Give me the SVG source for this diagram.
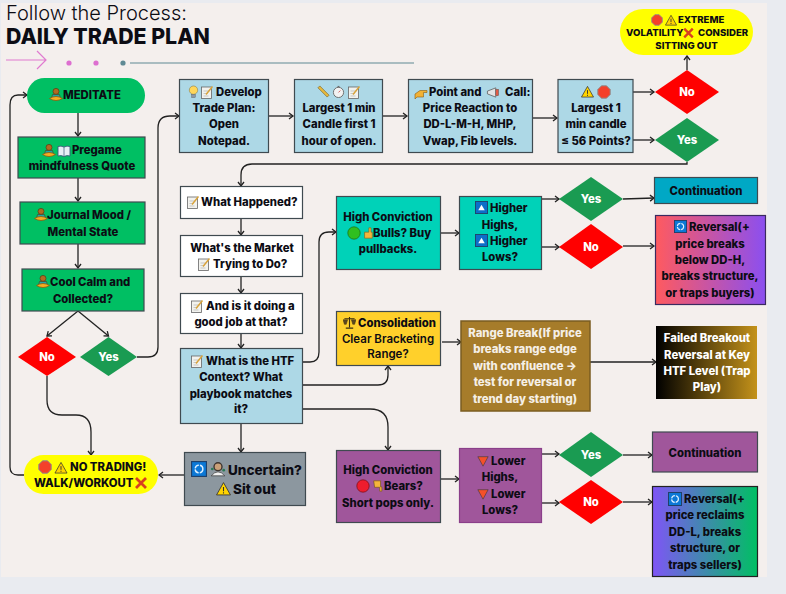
<svg xmlns="http://www.w3.org/2000/svg" width="786" height="594" viewBox="0 0 786 594">
<style>
text{font-family:"Inter","Liberation Sans",sans-serif;font-weight:800;font-size:11.300px;fill:#0c0c14;text-anchor:middle}
.s{text-anchor:start}
.w{fill:#fff}
.m{font-weight:600;font-size:11.500px}
.c{fill:#f5efe6}
.x{font-size:9.600px}
.u{font-size:13.500px}
.box{stroke:#3f4a50;stroke-width:1.200}
.line{fill:none;stroke:#222;stroke-width:1.300;marker-end:url(#a)}
</style>
<defs>
<marker id="a" markerUnits="userSpaceOnUse" markerWidth="8" markerHeight="8" refX="6.500" refY="4" orient="auto"><path d="M2.500 1L6.500 4L2.500 7" fill="none" stroke="#222" stroke-width="1.300"/></marker>
<linearGradient id="gRev1" x1="0" x2="1" y1="0" y2="0"><stop offset="0" stop-color="#ff5a5f"/><stop offset="1" stop-color="#8b4ff0"/></linearGradient>
<linearGradient id="gRev2" x1="0" x2="1" y1="0" y2="0"><stop offset="0" stop-color="#7f55f6"/><stop offset="1" stop-color="#00bf63"/></linearGradient>
<linearGradient id="gFail" x1="0" x2="1" y1="0" y2="0"><stop offset="0" stop-color="#000"/><stop offset="1" stop-color="#c4921a"/></linearGradient>
<symbol id="i-person" viewBox="0 0 14 14"><circle cx="7" cy="3.400" r="3" fill="#b06a22" stroke="#5e3610" stroke-width=".7"/><path d="M3.500 6.500h7l1 4h-9z" fill="#1fa3a8" stroke="#5e3610" stroke-width=".6"/><path d="M.5 10.500Q7 6.500 13.500 10.500Q7 14.500 .5 10.500Z" fill="#f5ae22" stroke="#8a5a10" stroke-width=".8"/></symbol>
<symbol id="i-book" viewBox="0 0 14 14"><path d="M1 2.500Q4 1.500 7 3Q10 1.500 13 2.500V12Q10 11 7 12.500Q4 11 1 12Z" fill="#e6eff5" stroke="#3a5a78" stroke-width=".9"/><path d="M7 3V12.500" stroke="#3a5a78" stroke-width=".7"/></symbol>
<symbol id="i-bulb" viewBox="0 0 14 14"><circle cx="7" cy="5" r="4.500" fill="#ffd75a" stroke="#8a7a40" stroke-width=".6"/><rect x="5" y="9.500" width="4" height="3.500" fill="#8d99a3" stroke="#555" stroke-width=".4"/></symbol>
<symbol id="i-memo" viewBox="0 0 14 14"><rect x="1.500" y="2" width="10" height="11.500" fill="#f2f2ee" stroke="#666" stroke-width=".8"/><path d="M3.500 6h6M3.500 8.500h4M3.500 11h5" stroke="#aaa" stroke-width=".6"/><path d="M6 9.500L12.500 1.500" stroke="#d9a33a" stroke-width="1.500"/></symbol>
<symbol id="i-ruler" viewBox="0 0 14 14"><path d="M1 3L3 1L13 11L11 13Z" fill="#e8b93c" stroke="#6b5314" stroke-width=".6"/></symbol>
<symbol id="i-watch" viewBox="0 0 14 14"><circle cx="7" cy="8" r="5.500" fill="#f2f2f2" stroke="#6a6a6a"/><rect x="6" y="1" width="2" height="1.600" fill="#6a6a6a"/><path d="M7 8L9 6" stroke="#c33" stroke-width=".8"/></symbol>
<symbol id="i-point" viewBox="0 0 14 14"><path d="M1 8L6 4.500H13V6.500H9.500V11H3L1 13Z" fill="#f2b134" stroke="#8a5a10" stroke-width=".6"/></symbol>
<symbol id="i-mega" viewBox="0 0 14 14"><path d="M1 5.500L10 2V12L1 8.500Z" fill="#e4e4e4" stroke="#555" stroke-width=".8"/><rect x="10" y="3.500" width="3" height="7" fill="#e25b45" stroke="#555" stroke-width=".5"/></symbol>
<symbol id="i-warn" viewBox="0 0 14 14"><path d="M7 1.500L13.500 13H.5Z" fill="#ffd400" stroke="#333" stroke-width=".8"/><path d="M7 5.500V9.500M7 10.500V11.700" stroke="#333"/></symbol>
<symbol id="i-stop" viewBox="0 0 14 14"><path d="M4.500 .8H9.500L13.200 4.500V9.500L9.500 13.200H4.500L.8 9.500V4.500Z" fill="#f4402a" stroke="#8d8d8d"/></symbol>
<symbol id="i-cross" viewBox="0 0 14 14"><path d="M2 2L12 12M12 2L2 12" stroke="#d8401f" stroke-width="2.800"/></symbol>
<symbol id="i-ref" viewBox="0 0 14 14"><rect x=".5" y=".5" width="13" height="13" fill="#0c78d6" stroke="#20406a"/><circle cx="7" cy="7" r="3.400" fill="none" stroke="#dff0ff" stroke-width="1.200" stroke-dasharray="4.500 1"/></symbol>
<symbol id="i-up" viewBox="0 0 14 14"><rect x=".5" y=".5" width="13" height="13" fill="#0c6ec9" stroke="#20406a"/><path d="M7 4L10.500 10H3.500Z" fill="#fff"/></symbol>
<symbol id="i-down" viewBox="0 0 14 14"><path d="M1 2H13L7 13Z" fill="#f4502a" stroke="#3a3a3a" stroke-width=".7"/></symbol>
<symbol id="i-green" viewBox="0 0 14 14"><circle cx="7" cy="7" r="6.200" fill="#2fbf1f" stroke="#1d6a14" stroke-width=".7"/></symbol>
<symbol id="i-red" viewBox="0 0 14 14"><circle cx="7" cy="7" r="6.200" fill="#ee1c2e" stroke="#701018" stroke-width=".7"/></symbol>
<symbol id="i-tup" viewBox="0 0 14 14"><path d="M3 6L8 6V1H10.500V6H12V13H3Z" fill="#f5b53c" stroke="#8a5a10" stroke-width=".7"/></symbol>
<symbol id="i-tdown" viewBox="0 0 14 14"><path d="M2 1H10V8H11.500V13H9V8.500H3Z" fill="#f5b53c" stroke="#6b5010" stroke-width=".7"/></symbol>
<symbol id="i-scale" viewBox="0 0 14 14"><path d="M7 1V12M3 13H11M1.500 3H12.500" stroke="#3a2c10" stroke-width="1.200" fill="none"/><path d="M0 4H5L3.500 9H1.500ZM9 4H14L12.500 9H10.500Z" fill="#5c4820" stroke="#3a2c10" stroke-width=".5"/></symbol>
<symbol id="i-tech" viewBox="0 0 14 14"><circle cx="7" cy="5" r="3.500" fill="#caa078" stroke="#3d3530" stroke-width="1.200"/><path d="M1 13Q7 6 13 13Z" fill="#f2f2f2" stroke="#444" stroke-width=".7"/><circle cx="2" cy="7" r="1.200" fill="#2b7a55"/><circle cx="12" cy="8" r="1.200" fill="#2b7a55"/></symbol>
</defs>

<rect width="786" height="594" fill="#e9ebf0"/>
<rect x="1" y="3" width="766" height="574" fill="#f4efed"/>

<g id="header">
<text class="s" x="6" y="20" style="font-size:20px;font-weight:300">Follow the Process:</text>
<text class="s" x="6" y="44" style="font-size:21.300px;font-weight:800">DAILY TRADE PLAN</text>
<path d="M6 60H46M37 51L46 60L37 69" fill="none" stroke="#e07ad0" stroke-width="1.200"/>
<circle cx="69" cy="63" r="2.600" fill="#dd6fd0"/><circle cx="96" cy="63" r="2.600" fill="#dd6fd0"/><circle cx="123" cy="63" r="2.600" fill="#5f8a94"/>
<path d="M130 63H414" stroke="#5f8a94" stroke-width="1.200"/>
</g>

<g id="connectors">
<path class="line" d="M78 113V136"/>
<path class="line" d="M78 178V201"/>
<path class="line" d="M78 244V268"/>
<path class="line" d="M78 311L47 336"/>
<path class="line" d="M78 311L108.500 336"/>
<path class="line" d="M47 376V400Q47 415 62 415H76Q91 415 91 432V455"/>
<path class="line" d="M137 357H148Q158 357 158 347V128Q158 116 170 116H179"/>
<path class="line" d="M24 475H18Q10 475 10 467V105Q10 95 18 95H27"/>
<path class="line" d="M269 116H293"/>
<path class="line" d="M383 116H407"/>
<path class="line" d="M532 118H557"/>
<path class="line" d="M633 92H654"/>
<path class="line" d="M633 140H654"/>
<path class="line" d="M687 70V56"/>
<path class="line" d="M687 162V164H252Q241 164 241 175V186"/>
<path class="line" d="M241 218V235"/>
<path class="line" d="M241 276V293"/>
<path class="line" d="M241 333V348"/>
<path class="line" d="M302 362H310Q319 362 319 352V242Q319 232 329 232H336"/>
<path class="line" d="M302 385H378Q388 385 388 375V366"/>
<path class="line" d="M302 409H370Q388 409 388 427V450"/>
<path class="line" d="M241 423V452"/>
<path class="line" d="M184 475H159"/>
<path class="line" d="M440 233H459"/>
<path class="line" d="M542 199H559"/>
<path class="line" d="M542 247H559"/>
<path class="line" d="M623 199L654 198"/>
<path class="line" d="M623 246H654"/>
<path class="line" d="M442 342H461"/>
<path class="line" d="M590 362H656"/>
<path class="line" d="M440 479H459"/>
<path class="line" d="M542 454H559"/>
<path class="line" d="M542 503H559"/>
<path class="line" d="M623 455H652"/>
<path class="line" d="M623 502H652"/>
</g>

<g id="meditate"><rect x="27" y="78" width="118" height="35" rx="17.500" fill="#00bf63"/><use href="#i-person" x="49" y="88" width="14" height="14"/><text class="s" x="63" y="99">MEDITATE</text></g>
<g id="pregame"><rect class="box" x="18" y="137" width="127" height="41" fill="#00bf63"/><use href="#i-person" x="42" y="144" width="14" height="14"/><use href="#i-book" x="57" y="144" width="14" height="14"/><text class="s" x="72" y="154">Pregame</text><text x="82" y="170">mindfulness Quote</text></g>
<g id="journal"><rect class="box" x="20" y="202" width="125" height="42" fill="#00bf63"/><use href="#i-person" x="34" y="208" width="14" height="14"/><text class="s" x="47" y="219">Journal Mood /</text><text x="83" y="236">Mental State</text></g>
<g id="cool"><rect class="box" x="22" y="269" width="122" height="42" fill="#00bf63"/><use href="#i-person" x="36" y="275" width="14" height="14"/><text class="s" x="50" y="286">Cool Calm and</text><text x="83" y="303">Collected?</text></g>
<g id="no1"><path d="M18 357L47 337L76 357L47 376Z" fill="#ff0000"/><text class="w" x="47" y="361">No</text></g>
<g id="yes1"><path d="M80 357L108.500 337L137 357L108.500 376Z" fill="#1a9b52"/><text class="w" x="108.500" y="361">Yes</text></g>

<g id="develop"><rect class="box" x="179.500" y="79.500" width="89" height="73" fill="#add8e6"/><use href="#i-bulb" x="187" y="85" width="13" height="14"/><use href="#i-memo" x="200" y="85" width="14" height="14"/><text class="s" x="216" y="96">Develop</text><text x="224" y="112">Trade Plan:</text><text x="224" y="128">Open</text><text x="224" y="145">Notepad.</text></g>
<g id="largest"><rect class="box" x="294.500" y="79.500" width="88" height="73" fill="#add8e6"/><use href="#i-ruler" x="317" y="85" width="13" height="13"/><use href="#i-watch" x="332" y="85" width="13" height="13"/><use href="#i-memo" x="347" y="85" width="14" height="14"/><text x="339" y="112">Largest 1 min</text><text x="339" y="128">Candle first 1</text><text x="339" y="145">hour of open.</text></g>
<g id="pointcall"><rect class="box" x="408.500" y="79.500" width="124" height="73" fill="#add8e6"/><use href="#i-point" x="414" y="86" width="14" height="14"/><text class="s" x="429" y="96">Point and</text><use href="#i-mega" x="486" y="86" width="14" height="13"/><text class="s" x="505" y="96">Call:</text><text x="470" y="112">Price Reaction to</text><text x="470" y="128">DD-L-M-H, MHP,</text><text x="470" y="145">Vwap, Fib levels.</text></g>
<g id="candle"><rect class="box" x="558" y="79.500" width="75" height="73" fill="#add8e6"/><use href="#i-warn" x="581" y="85" width="13" height="13"/><use href="#i-stop" x="597" y="85" width="14" height="14"/><text x="596" y="112">Largest 1</text><text x="596" y="128">min candle</text><text x="596" y="145">≤ 56 Points?</text></g>
<g id="no2"><path d="M655 92L687 70L719 92L687 114Z" fill="#ff0000"/><text class="w" x="687" y="96">No</text></g>
<g id="yes2"><path d="M655 140L687 118L719 140L687 162Z" fill="#1a9b52"/><text class="w" x="687" y="144">Yes</text></g>
<g id="extreme"><rect x="620" y="9" width="133" height="46" rx="23" fill="#ffff00"/><use href="#i-stop" x="651" y="14" width="12" height="12"/><use href="#i-warn" x="665" y="14" width="12" height="12"/><text class="s x" x="678" y="23">EXTREME</text><text class="s x" x="626" y="36">VOLATILITY</text><use href="#i-cross" x="682.500" y="27" width="12" height="12"/><text class="s x" x="698" y="36">CONSIDER</text><text class="x" x="686.500" y="49">SITTING OUT</text></g>

<g id="happened"><rect class="box" x="180.500" y="186.500" width="122" height="32" fill="#fff"/><use href="#i-memo" x="186" y="195" width="14" height="14"/><text class="s" x="201" y="206">What Happened?</text></g>
<g id="market"><rect class="box" x="180.500" y="235.500" width="122" height="41" fill="#fff"/><text x="242" y="252">What's the Market</text><use href="#i-memo" x="197" y="257" width="14" height="14"/><text class="s" x="213" y="268">Trying to Do?</text></g>
<g id="good"><rect class="box" x="180.500" y="293.500" width="122" height="40" fill="#fff"/><use href="#i-memo" x="190" y="299" width="14" height="14"/><text class="s" x="206" y="310">And is it doing a</text><text x="241" y="326">good job at that?</text></g>
<g id="htf"><rect class="box" x="180.500" y="348.500" width="122" height="75" fill="#add8e6"/><use href="#i-memo" x="190" y="354" width="14" height="14"/><text class="s" x="206" y="365">What is the HTF</text><text x="241" y="381">Context? What</text><text x="241" y="398">playbook matches</text><text x="241" y="413">it?</text></g>
<g id="uncertain"><rect class="box" x="184.500" y="452.500" width="121" height="53" fill="#8c979f"/><use href="#i-ref" x="191" y="461" width="16" height="16"/><use href="#i-tech" x="210" y="461" width="16" height="16"/><text class="s u" x="228" y="475">Uncertain?</text><use href="#i-warn" x="216" y="481" width="15" height="15"/><text class="s u" x="233" y="494">Sit out</text></g>
<g id="notrading"><rect x="24" y="455" width="134" height="39" rx="19.500" fill="#ffff00"/><use href="#i-stop" x="38" y="460" width="14" height="14"/><use href="#i-warn" x="54" y="461" width="14" height="13"/><text class="s" x="70" y="471">NO TRADING!</text><text class="s" x="34" y="487">WALK/WORKOUT</text><use href="#i-cross" x="134" y="476" width="14" height="14"/></g>

<g id="bulls"><rect class="box" x="336.500" y="196.500" width="104" height="73" fill="#00d2b8"/><text x="388" y="221">High Conviction</text><use href="#i-green" x="347" y="226" width="14" height="14"/><use href="#i-tup" x="362" y="226" width="12" height="14"/><text class="s" x="373" y="237">Bulls? Buy</text><text x="388" y="253">pullbacks.</text></g>
<g id="higher"><rect class="box" x="459.500" y="196.500" width="82" height="73" fill="#00d2b8"/><use href="#i-up" x="475" y="201" width="13" height="13"/><text class="s" x="490" y="212">Higher</text><text x="500" y="229">Highs,</text><use href="#i-up" x="475" y="234" width="13" height="13"/><text class="s" x="490" y="245">Higher</text><text x="500" y="261">Lows?</text></g>
<g id="yes3"><path d="M559 199L591 177L623 199L591 221Z" fill="#1a9b52"/><text class="w" x="591" y="203">Yes</text></g>
<g id="no3"><path d="M559 247L591 224L623 247L591 269Z" fill="#ff0000"/><text class="w" x="591" y="251">No</text></g>
<g id="cont1"><rect class="box" x="654.500" y="177.500" width="103" height="26" fill="#00a8c5"/><text x="706" y="195">Continuation</text></g>
<g id="rev1"><rect x="655.500" y="215.500" width="110" height="89" fill="url(#gRev1)" stroke="#3a2a60" stroke-width="1.200"/><use href="#i-ref" x="674" y="220" width="13" height="13"/><text class="s" x="689" y="231">Reversal(+</text><text x="710" y="248">price breaks</text><text x="710" y="264">below DD-H,</text><text x="710" y="280">breaks structure,</text><text x="710" y="297">or traps buyers)</text></g>

<g id="consolidation"><rect class="box" x="336.500" y="311.500" width="104" height="54" fill="#ffd02b"/><use href="#i-scale" x="343" y="316" width="13" height="13"/><text class="s" x="358" y="327">Consolidation</text><text class="m" x="388" y="343">Clear Bracketing</text><text class="m" x="388" y="358">Range?</text></g>
<g id="range"><rect x="461" y="321" width="129" height="90" fill="#a67c2a" stroke="#7a5c20" stroke-width="1.500"/><text class="c" x="525" y="337">Range Break(If price</text><text class="c" x="525" y="353">breaks range edge</text><text class="c" x="525" y="370">with confluence →</text><text class="c" x="525" y="386">test for reversal or</text><text class="c" x="525" y="403">trend day starting)</text></g>
<g id="failed"><rect x="656" y="326" width="101" height="73" fill="url(#gFail)"/><text class="w" x="707" y="342">Failed Breakout</text><text class="w" x="707" y="359">Reversal at Key</text><text class="w" x="707" y="375">HTF Level (Trap</text><text class="w" x="707" y="391">Play)</text></g>

<g id="bears"><rect class="box" x="336.500" y="450.500" width="104" height="72" fill="#a0569b"/><text x="388" y="474">High Conviction</text><use href="#i-red" x="356" y="479" width="14" height="14"/><use href="#i-tdown" x="372" y="479" width="12" height="14"/><text class="s" x="384" y="490">Bears?</text><text x="388" y="507">Short pops only.</text></g>
<g id="lower"><rect x="459.500" y="448.500" width="82" height="74" fill="#a0569b" stroke="#8a3f8a" stroke-width="1.200"/><use href="#i-down" x="477" y="455" width="12" height="12"/><text class="s" x="491" y="465">Lower</text><text x="500" y="481">Highs,</text><use href="#i-down" x="477" y="488" width="12" height="12"/><text class="s" x="491" y="498">Lower</text><text x="500" y="514">Lows?</text></g>
<g id="yes4"><path d="M559 455L591 432L623 455L591 477Z" fill="#1a9b52"/><text class="w" x="591" y="459">Yes</text></g>
<g id="no4"><path d="M559 502L591 480L623 502L591 524Z" fill="#ff0000"/><text class="w" x="591" y="506">No</text></g>
<g id="cont2"><rect class="box" x="652.500" y="432" width="105" height="40" fill="#a0569b"/><text x="705" y="457">Continuation</text></g>
<g id="rev2"><rect x="652.500" y="486.500" width="105" height="90" fill="url(#gRev2)" stroke="#222" stroke-width="1.200"/><use href="#i-ref" x="668" y="492" width="14" height="14"/><text class="s" x="684" y="503">Reversal(+</text><text x="705" y="519">price reclaims</text><text x="705" y="536">DD-L, breaks</text><text x="705" y="552">structure, or</text><text x="705" y="569">traps sellers)</text></g>
</svg>
